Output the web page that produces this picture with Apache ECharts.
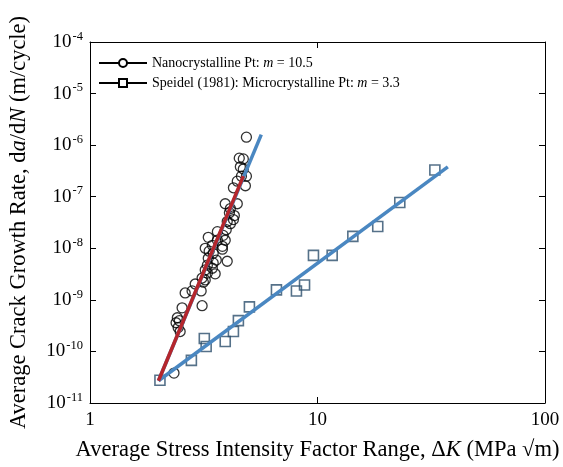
<!DOCTYPE html>
<html>
<head>
<meta charset="utf-8">
<script src="https://cdn.jsdelivr.net/npm/echarts@6/dist/echarts.min.js"></script>
<style>
html,body{margin:0;padding:0;background:#fff;}
#chart{width:563px;height:467px;}
</style>
</head>
<body>
<div id="chart"></div>
<script>
// ---- Data ----
// Nanocrystalline Pt (circles): ΔK (MPa√m) and da/dN (m/cycle)
const nanoK = [4.87,4.53,4.72,4.58,4.72,4.63,4.87,4.44,4.82,4.27,3.93,4.44,4.14,4.10,4.31,4.27,4.01,4.14,3.97,3.63,3.85,3.31,3.93,3.63,3.45,3.82,3.21,3.82,3.34,3.48,4.01,3.31,3.59,3.28,3.48,3.45,3.21,3.55,3.28,3.11,3.21,3.15,2.90,2.81,2.62,3.08,2.54,3.11,2.42,2.47,2.39,2.44,2.49,2.34];
const nanoRate = [1.43e-6,5.6e-7,5.4e-7,3.8e-7,3.45e-7,2.5e-7,2.5e-7,2.0e-7,1.63e-7,1.49e-7,7.3e-8,7.3e-8,5.9e-8,4.9e-8,4.3e-8,3.6e-8,3.3e-8,3.0e-8,2.3e-8,2.1e-8,1.78e-8,1.63e-8,1.43e-8,1.43e-8,1.14e-8,1.09e-8,1.0e-8,9.6e-9,8.8e-9,8.0e-9,5.6e-9,6.4e-9,5.9e-9,4.7e-9,5.2e-9,4.1e-9,3.8e-9,3.2e-9,3.3e-9,2.65e-9,2.43e-9,2.2e-9,2.03e-9,1.49e-9,1.36e-9,1.49e-9,7.0e-10,7.7e-10,4.5e-10,3.95e-10,3.6e-10,2.9e-10,2.43e-10,3.8e-11];
// Speidel (1981) microcrystalline Pt (squares)
const microK = [2.03,2.79,3.18,3.24,3.93,4.27,4.49,5.02,6.60,8.08,8.77,9.60,11.6,14.3,18.4,23.0,32.8];
const microRate = [2.77e-11,6.7e-11,1.78e-10,1.25e-10,1.56e-10,2.43e-10,3.95e-10,7.3e-10,1.56e-9,1.49e-9,1.94e-9,7.3e-9,7.3e-9,1.70e-8,2.65e-8,7.7e-8,3.3e-7];
// Fit lines (end points)
const nanoFitK = [2.0, 5.66];
const nanoFitRate = [2.7e-11, 1.6e-6];
const nanoRedK = [2.0, 4.72];
const nanoRedRate = [2.7e-11, 2.5e-7];
const microFitK = [2.0, 37.4];
const microFitRate = [2.7e-11, 3.8e-7];
// Axes
const xTickLabels = ['1','10','100'];
const xMin = 1, xMax = 100;
const yMin = 1e-11, yMax = 1e-4;
// Legend labels
const legendNames = ['Nanocrystalline Pt', 'Speidel (1981): Microcrystalline Pt'];
const legendM = ['10.5', '3.3'];

const zip = (a, b) => a.map((v, i) => [v, b[i]]);
const FONT = '"Liberation Serif", "DejaVu Serif", serif';

const chart = echarts.init(document.getElementById('chart'), null, {renderer: 'canvas'});

const axisCommon = {
  type: 'log', logBase: 10,
  axisLine: {show: true, lineStyle: {color: '#000', width: 1}},
  axisTick: {show: true, inside: true, length: 6, lineStyle: {color: '#000'}},
  minorTick: {show: false},
  splitLine: {show: false}
};

const option = {
  backgroundColor: '#fff',
  animation: false,
  grid: {left: 90, right: 18, top: 42, bottom: 61, show: false},
  legend: {
    left: 98, top: 56, orient: 'vertical', padding: 0,
    itemWidth: 48, itemHeight: 10, itemGap: 6,
    data: legendNames,
    formatter: function (name) {
      const i = legendNames.indexOf(name);
      return name + ': {i|m} = ' + legendM[i];
    },
    textStyle: {
      fontFamily: FONT, fontSize: 14, color: '#000',
      rich: {i: {fontFamily: FONT, fontSize: 14, fontStyle: 'italic', color: '#000'}}
    }
  },
  xAxis: [
    Object.assign({}, axisCommon, {
      min: xMin, max: xMax, interval: 1,
      axisLabel: {
        color: '#000', fontFamily: FONT, fontSize: 19, margin: 8,
        formatter: function (v) {
          const e = Math.round(Math.log10(v));
          return xTickLabels[e] !== undefined ? xTickLabels[e] : '';
        }
      },
      name: 'Average Stress Intensity Factor Range, Δ{i|K} (MPa √m)',
      nameLocation: 'middle', nameGap: 36,
      nameTextStyle: {
        color: '#000', fontFamily: FONT, fontSize: 22.5,
        rich: {i: {fontFamily: FONT, fontSize: 22.5, fontStyle: 'italic', color: '#000'}}
      }
    }),
    Object.assign({}, axisCommon, {
      position: 'top', min: xMin, max: xMax, interval: 1,
      axisLabel: {show: false}
    })
  ],
  yAxis: [
    Object.assign({}, axisCommon, {
      min: yMin, max: yMax, interval: 1,
      axisLabel: {
        color: '#000', fontFamily: FONT, fontSize: 19, margin: 7,
        formatter: function (v) {
          const e = Math.round(Math.log10(v));
          return '10{sup|' + e + '}';
        },
        rich: {sup: {fontFamily: FONT, fontSize: 12.5, color: '#000', padding: [0, 0, 11, 1]}}
      },
      name: 'Average Crack Growth Rate, d{i|a}/d{i|N} (m/cycle)',
      nameLocation: 'middle', nameGap: 59, nameRotate: 90,
      nameTextStyle: {
        color: '#000', fontFamily: FONT, fontSize: 22.5,
        rich: {i: {fontFamily: FONT, fontSize: 22.5, fontStyle: 'italic', color: '#000'}}
      }
    }),
    Object.assign({}, axisCommon, {
      position: 'right', min: yMin, max: yMax, interval: 1,
      axisLabel: {show: false}
    })
  ],
  series: [
    // Legend-only entries
    {name: legendNames[0], type: 'line', data: [], symbol: 'circle', symbolSize: 8,
     lineStyle: {color: '#000', width: 3}, itemStyle: {color: '#fff', borderColor: '#000', borderWidth: 1.2}},
    {name: legendNames[1], type: 'line', data: [], symbol: 'rect', symbolSize: 8,
     lineStyle: {color: '#000', width: 3}, itemStyle: {color: '#fff', borderColor: '#000', borderWidth: 1.2}},
    // Data markers
    {type: 'scatter', data: zip(microK, microRate), symbol: 'rect', symbolSize: 10, z: 3,
     itemStyle: {color: 'rgba(255,255,255,0)', borderColor: '#2a4d6c', borderWidth: 1.6}},
    {type: 'scatter', data: zip(nanoK, nanoRate), symbol: 'circle', symbolSize: 10, z: 3,
     itemStyle: {color: 'rgba(255,255,255,0)', borderColor: '#000', borderWidth: 1.3}},
    // Fit lines
    {type: 'line', data: zip(microFitK, microFitRate), symbol: 'none', z: 4,
     lineStyle: {color: '#4a87c1', width: 3.5}},
    {type: 'line', data: zip(nanoFitK, nanoFitRate), symbol: 'none', z: 4,
     lineStyle: {color: '#4a87c1', width: 3.5}},
    {type: 'line', data: zip(nanoRedK, nanoRedRate), symbol: 'none', z: 5,
     lineStyle: {color: '#b5262c', width: 3.5}}
  ]
};
chart.setOption(option);
</script>
</body>
</html>
